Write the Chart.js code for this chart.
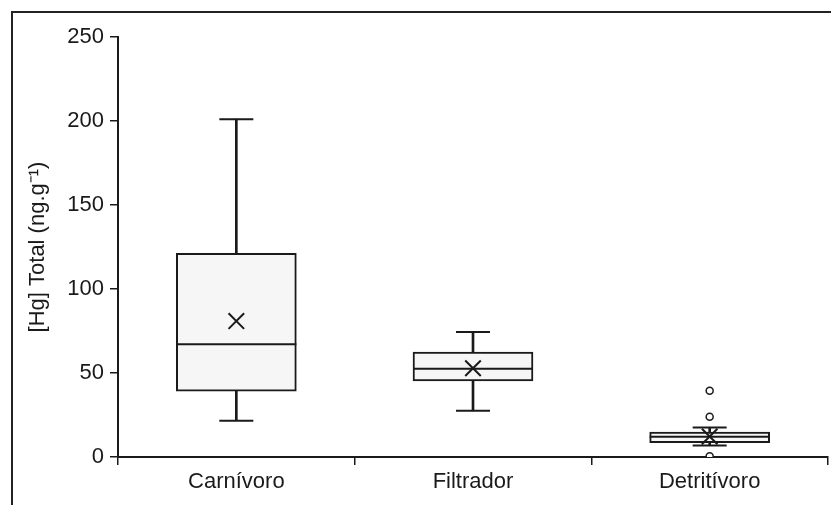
<!DOCTYPE html>
<html>
<head>
<meta charset="utf-8">
<script src="https://cdn.jsdelivr.net/npm/chart.js@4.4.1/dist/chart.umd.min.js"></script>
<style>
  html, body { margin: 0; padding: 0; background: #fff; }
  #wrap { position: relative; width: 831px; height: 505px; }
  #frame {
    position: absolute; left: 11px; top: 11px; right: 0; bottom: 0;
    border-top: 2px solid #222; border-left: 2px solid #222;
    pointer-events: none;
  }
</style>
</head>
<body>
<div id="wrap">
  <canvas id="myChart" width="831" height="505"></canvas>
  <div id="frame"></div>
</div>
<script>
const labels = ['Carnívoro', 'Filtrador', 'Detritívoro'];
const minVals = [21.6, 27.5, 6.9];
const q1Vals = [39.2, 45.3, 8.5];
const medianVals = [67.1, 52.6, 12.1];
const q3Vals = [121.3, 62.5, 14.8];
const maxVals = [201.1, 74.4, 17.6];
const meanVals = [80.9, 52.8, 12.2];
const outlierCats = ['Detritívoro', 'Detritívoro', 'Detritívoro'];
const outlierVals = [39.4, 23.9, 0.5];

const ink = '#1a1a1a';
const font = { family: "'Liberation Sans', Arial, sans-serif", size: 22 };

// marks drawn as points: no line between them
const pointSet = (data, style, radius, width) => ({
    type: 'line',
    data: data,
    showLine: false,
    pointStyle: style,
    pointRadius: radius,
    pointHoverRadius: radius,
    pointBorderColor: ink,
    pointBackgroundColor: '#fff',
    pointBorderWidth: width
});

const data = {
    labels: labels,
    datasets: [
        pointSet(meanVals, 'crossRot', 11, 2),
        pointSet(medianVals, 'line', 60, 2),
        pointSet(minVals, 'line', 17, 2),
        pointSet(maxVals, 'line', 17, 2),
        pointSet(outlierCats.map((c, i) => ({ x: c, y: outlierVals[i] })), 'circle', 3.5, 1.5),
        {
            type: 'bar',
            data: labels.map((l, i) => [q1Vals[i], q3Vals[i]]),
            backgroundColor: '#f6f6f6',
            borderColor: ink,
            borderWidth: 2,
            borderSkipped: false,
            barThickness: 120,
            grouped: false
        },
        {
            type: 'bar',
            data: labels.map((l, i) => [minVals[i], q1Vals[i]]),
            backgroundColor: ink,
            borderWidth: 0,
            barThickness: 2,
            grouped: false
        },
        {
            type: 'bar',
            data: labels.map((l, i) => [q3Vals[i], maxVals[i]]),
            backgroundColor: ink,
            borderWidth: 0,
            barThickness: 2,
            grouped: false
        }
    ]
};

const config = {
    type: 'bar',
    data: data,
    options: {
        responsive: false,
        animation: false,
        events: [],
        layout: { autoPadding: false, padding: { left: 0, top: 37, right: 3, bottom: 0 } },
        plugins: {
            legend: { display: false },
            tooltip: { enabled: false }
        },
        scales: {
            x: {
                offset: true,
                grid: { drawOnChartArea: false, offset: true, tickLength: 8, color: ink, lineWidth: 1.5 },
                border: { color: ink, width: 2 },
                ticks: { color: ink, font: font, padding: 4 },
                afterFit: (scale) => { scale.height = 48; }
            },
            y: {
                min: 0,
                max: 250,
                grid: { drawOnChartArea: false, tickLength: 8, color: ink, lineWidth: 1.5 },
                border: { color: ink, width: 2 },
                ticks: { stepSize: 50, color: ink, font: font, padding: 6 },
                title: {
                    display: true,
                    text: '[Hg] Total (ng.g⁻¹)',
                    color: ink,
                    font: { family: "'Liberation Sans', Arial, sans-serif", size: 22 },
                    padding: { top: 25, bottom: 0 }
                },
                afterFit: (scale) => { scale.width = 118; }
            }
        }
    }
};

const myChart = new Chart(document.getElementById('myChart'), config);
</script>
</body>
</html>
